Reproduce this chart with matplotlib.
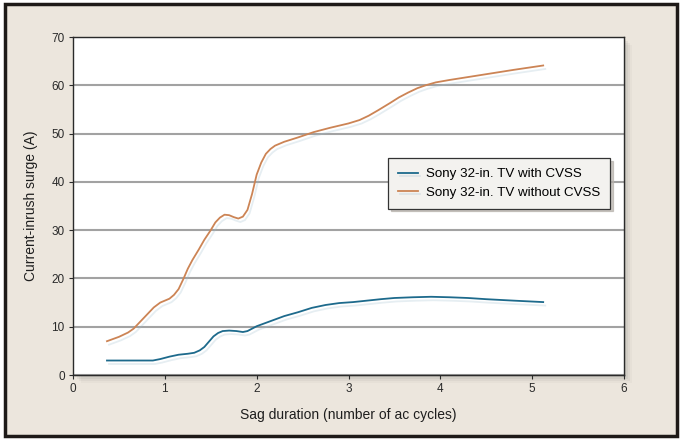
import matplotlib
matplotlib.use('Agg')
import matplotlib.pyplot as plt
import matplotlib.patheffects as pe
from matplotlib.patches import Rectangle

# Datos (duracion del sag vs pico de corriente)
x_con = [0.37, 0.6, 0.87, 0.95, 1.05, 1.15, 1.25, 1.32, 1.38, 1.43, 1.48, 1.53,
         1.58, 1.63, 1.7, 1.78, 1.85, 1.9, 1.95, 2.0, 2.1, 2.2, 2.3, 2.45, 2.6,
         2.75, 2.9, 3.05, 3.2, 3.35, 3.5, 3.7, 3.9, 4.1, 4.3, 4.5, 4.8, 5.12]
y_con = [3.0, 3.0, 3.0, 3.3, 3.8, 4.2, 4.4, 4.6, 5.1, 5.8, 6.9, 8.0,
         8.7, 9.1, 9.2, 9.1, 8.9, 9.1, 9.6, 10.1, 10.8, 11.5, 12.2, 13.0, 13.9,
         14.5, 14.9, 15.1, 15.4, 15.7, 15.95, 16.1, 16.2, 16.1, 15.95, 15.7, 15.4, 15.1]

x_sin = [0.37, 0.5, 0.6, 0.66, 0.72, 0.8, 0.88, 0.95, 1.0, 1.05, 1.1, 1.15, 1.2,
         1.25, 1.3, 1.37, 1.43, 1.5, 1.55, 1.6, 1.65, 1.7, 1.75, 1.8, 1.85, 1.9,
         1.95, 2.0, 2.05, 2.1, 2.15, 2.2, 2.3, 2.45, 2.62, 2.8, 3.0, 3.12, 3.22,
         3.32, 3.45, 3.55, 3.65, 3.75, 3.84, 3.95, 4.1, 4.3, 4.5, 4.8, 5.12]
y_sin = [7.0, 7.9, 8.8, 9.6, 10.8, 12.4, 14.0, 15.0, 15.4, 15.8, 16.6, 17.8, 19.8,
         22.0, 23.8, 26.0, 28.0, 30.0, 31.6, 32.6, 33.2, 33.1, 32.7, 32.4, 32.8, 34.2,
         37.5, 41.5, 44.0, 45.8, 46.8, 47.5, 48.3, 49.2, 50.3, 51.2, 52.1, 52.8, 53.7,
         54.8, 56.3, 57.5, 58.5, 59.4, 60.0, 60.6, 61.1, 61.7, 62.3, 63.2, 64.1]

etiquetas = ['Sony 32-in. TV with CVSS', 'Sony 32-in. TV without CVSS']
colores = ['#1d6a8c', '#cc8455']

plt.rcParams['font.family'] = ['Liberation Sans', 'DejaVu Sans']

fig = plt.figure(figsize=(6.81, 4.40), dpi=100)
fig.patch.set_facecolor('white')
# fondo beige con marco oscuro
fig.patches.append(Rectangle((4.5 / 681, 4.5 / 440), 1 - 9 / 681, 1 - 9 / 440,
                             transform=fig.transFigure, facecolor='#ece6dd',
                             edgecolor='#1e1a18', linewidth=2.5, zorder=-2))

pos = [73 / 681, 65 / 440, 551 / 681, 338 / 440]
# sombra del area de grafico
for i, a in enumerate([0.10, 0.08, 0.06, 0.04]):
    d = (i + 1) * 2
    fig.patches.append(Rectangle((pos[0] + d / 681, pos[1] - d / 440), pos[2], pos[3],
                                 transform=fig.transFigure, facecolor='#555555',
                                 edgecolor='none', alpha=a, zorder=-1))

ax = fig.add_axes(pos)
ax.set_zorder(2)
ax.set_facecolor('white')

sombra = [pe.SimpleLineShadow(offset=(1.5, -2.5), shadow_color='#9cbccc', alpha=0.25),
          pe.Normal()]
ax.plot(x_con, y_con, color=colores[0], lw=1.3, label=etiquetas[0], path_effects=sombra,
        zorder=3, solid_joinstyle='round')
ax.plot(x_sin, y_sin, color=colores[1], lw=1.3, label=etiquetas[1], path_effects=sombra,
        zorder=3, solid_joinstyle='round')

ax.set_xlim(0, 6)
ax.set_ylim(0, 70)
ax.set_xticks(range(0, 7))
ax.set_yticks(range(0, 71, 10))
ax.yaxis.grid(True, color='#a2a2a2', linewidth=1.5)
ax.set_axisbelow(True)

for s in ax.spines.values():
    s.set_color('#2a2a2a')
    s.set_linewidth(1.0)
ax.tick_params(axis='both', direction='out', length=3, width=0.8, color='#2a2a2a',
               labelsize=8.5, labelcolor='#2a2a2a', pad=3)

ax.set_xlabel('Sag duration (number of ac cycles)', fontsize=10, color='#1e1e1e', labelpad=9)
ax.set_ylabel('Current-inrush surge (A)', fontsize=10, color='#1e1e1e', labelpad=10)

leg = ax.legend(loc='upper left', bbox_to_anchor=(0.572, 0.642), fontsize=9.6,
                frameon=True, fancybox=False, framealpha=1, borderaxespad=0,
                shadow={'color': '#b5b0aa', 'alpha': 0.7},
                handlelength=1.5, handletextpad=0.6, borderpad=0.75, labelspacing=0.45)
leg.get_frame().set_facecolor('#f3f2ef')
leg.get_frame().set_edgecolor('#333333')
leg.get_frame().set_linewidth(0.9)

fig.savefig('out.png', dpi=100)
